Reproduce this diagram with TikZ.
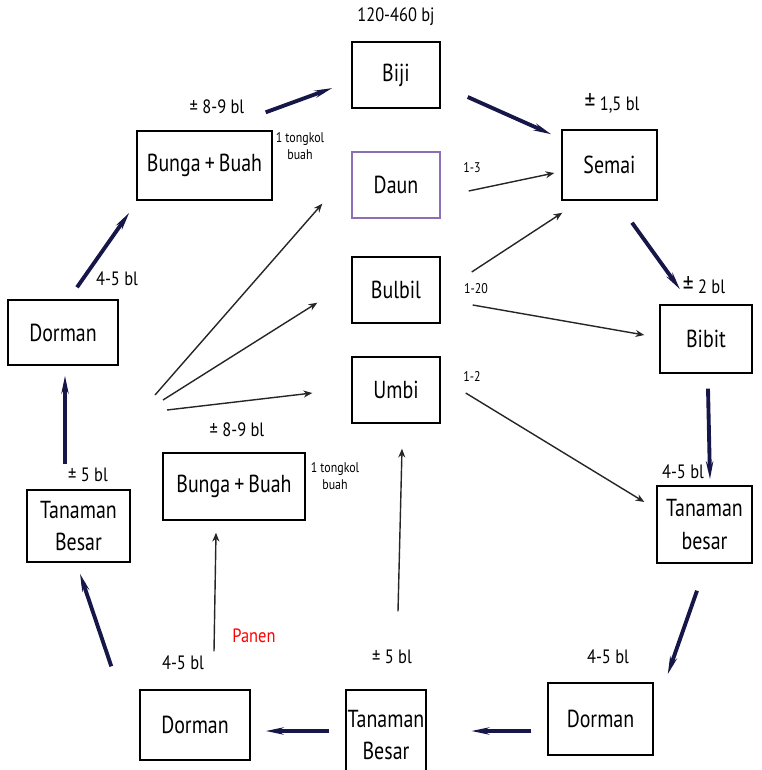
\documentclass[tikz,border=0pt]{standalone}
\usepackage{fontspec}
\newfontfamily\diagfont{PT Sans}[FakeStretch=0.85]
\newfontfamily\boxfont{PT Sans}[FakeStretch=0.81]
\usetikzlibrary{positioning,calc,arrows.meta}
\definecolor{navy}{RGB}{22,22,72}
\definecolor{daunline}{RGB}{140,110,180}
\tikzset{
  box/.style={draw, line width=0.8pt, align=center, inner sep=1pt,
    font=\boxfont\fontsize{14}{18.5}\selectfont},
  lbl/.style={font=\diagfont\fontsize{11}{13}\selectfont},
  smalllbl/.style={font=\diagfont\fontsize{8}{10}\selectfont, align=center},
  life/.style={-{Stealth[length=10pt,width=4pt]}, line width=2.2pt, draw=navy},
  yield/.style={-{Stealth[length=5pt,width=4pt]}, line width=0.8pt, draw=black!85},
}
\begin{document}
\begin{tikzpicture}[x=0.02cm, y=-0.02cm]
  \useasboundingbox (0,0) rectangle (761,770);

  % propagules in the middle
  \node[box, minimum width=1.76cm, minimum height=1.32cm] (biji) at (396,75) {Biji};
  \node[box, draw=daunline, minimum width=1.76cm, minimum height=1.32cm] (daun) at (396,185) {Daun};
  \node[box, minimum width=1.76cm, minimum height=1.32cm] (bulbil) at (396,290) {Bulbil};
  \node[box, minimum width=1.76cm, minimum height=1.32cm] (umbi) at (396,390) {Umbi};

  % outer cycle
  \node[box, minimum width=1.9cm, minimum height=1.4cm] (semai) at (609.5,165) {Semai};
  \node[box, minimum width=1.84cm, minimum height=1.36cm] (bibit) at (706,339) {Bibit};
  \node[box, minimum width=1.9cm, minimum height=1.54cm] (tbright) at (704.5,524.5) {Tanaman\\besar};
  \node[box, minimum width=2.1cm, minimum height=1.44cm] (dormright) at (600.5,719) {Dorman};
  \node[box, minimum width=1.58cm, minimum height=1.8cm] (tbbottom) at (386,735) {Tanaman\\Besar};
  \node[box, minimum width=2.2cm, minimum height=1.4cm] (dormleft) at (195,725) {Dorman};
  \node[box, minimum width=2.06cm, minimum height=1.44cm] (tbleft) at (78.5,526) {Tanaman\\Besar};
  \node[box, minimum width=2.2cm, minimum height=1.3cm] (dormup) at (63,332.5) {Dorman};
  \node[box, minimum width=2.7cm, minimum height=1.38cm] (bungaup) at (204.5,165.5) {Bunga\,+\,Buah};
  \node[box, minimum width=2.84cm, minimum height=1.34cm] (bungalow) at (234,486.5) {Bunga\,+\,Buah};

  % durations and counts
  \node[lbl] (tbiji) at (396,17) {120-460 bj};
  \node[lbl] (tbungaup) at (217,107) {± 8-9 bl};
  \node[smalllbl] (ttongkolup) at (300,146) {1 tongkol\\buah};
  \node[lbl] (tsemai) at (612,103) {{\Large ±} 1,5 bl};
  \node[smalllbl] (tdaun) at (472,168) {1-3};
  \node[smalllbl] (tbulbil) at (476,289) {1-20};
  \node[lbl] (tbibit) at (704,285) {{\Large ±} 2 bl};
  \node[smalllbl] (tumbi) at (472,376) {1-2};
  \node[lbl] (ttbright) at (683,472) {4-5 bl};
  \node[lbl] (tdormright) at (608,657) {4-5 bl};
  \node[lbl] (ttbbottom) at (392,657) {± 5 bl};
  \node[lbl] (tdormleft) at (183,663) {4-5 bl};
  \node[lbl, text=red] (tpanen) at (254,636) {Panen};
  \node[lbl] (tbungalow) at (237,430) {± 8-9 bl};
  \node[smalllbl] (ttongkollow) at (335,476) {1 tongkol\\buah};
  \node[lbl] (ttbleft) at (88,475) {± 5 bl};
  \node[lbl] (tdormup) at (117,279) {4-5 bl};

  % main life cycle
  \draw[life] ($(bungaup.north east)+(-7,-18)$) -- ($(biji.west)+(-19,13)$);
  \draw[life] ($(biji.east)+(27,22)$) -- ($(semai.north west)+(-10,5)$);
  \draw[life] ($(semai.south)+(22.5,22)$) -- ($(bibit.north)+(-26,-15)$);
  \draw[life] ($(bibit.south)+(2,15)$) -- ($(tbright.north)+(5.5,-6)$);
  \draw[life] ($(tbright.south)+(-7.5,27)$) -- ($(dormright.north east)+(14,-8)$);
  \draw[life] ($(dormright.west)+(-16,12)$) -- ($(tbbottom.east)+(44.5,-4)$);
  \draw[life] ($(tbbottom.west)+(-16.5,-4)$) -- ($(dormleft.east)+(15,6)$);
  \draw[life] ($(dormleft.north west)+(-28,-23)$) -- ($(tbleft.south)+(1.5,11)$);
  \draw[life] ($(tbleft.north)+(-13.5,-25)$) -- ($(dormup.south)+(2,10)$);
  \draw[life] ($(dormup.north)+(14,-12)$) -- ($(bungaup.south west)+(-7,12)$);

  % vegetative offspring
  \draw[yield] ($(daun.east)+(28,6)$) -- ($(semai.west)+(-7,8)$);
  \draw[yield] ($(bulbil.east)+(31,-18)$) -- ($(semai.south west)+(1,12)$);
  \draw[yield] ($(bulbil.east)+(32,15)$) -- ($(bibit.west)+(-15,-4)$);
  \draw[yield] ($(umbi.east)+(25,3)$) -- ($(tbright.west)+(-12,-22.5)$);
  \coordinate (fan) at (160,400);
  \draw[yield] ($(fan)+(-5,-5)$) -- ($(daun.south west)+(-29,-15)$);
  \draw[yield] ($(fan)+(3,0)$) -- ($(bulbil.south west)+(-34,-21)$);
  \draw[yield] ($(fan)+(7,10)$) -- ($(umbi.west)+(-39,3)$);
  \draw[yield] ($(tbbottom.north)+(12,-78)$) -- ($(umbi.south)+(6,25)$);
  \draw[yield] ($(dormleft.north)+(19,-38)$) -- ($(bungalow.south)+(-18,12)$);
\end{tikzpicture}
\end{document}
